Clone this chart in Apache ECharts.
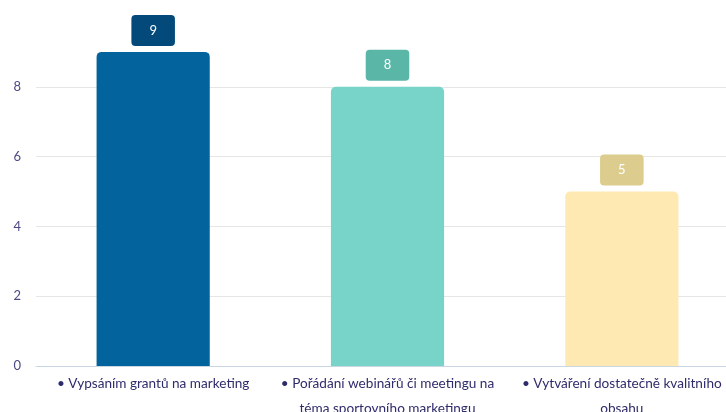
<!DOCTYPE html>
<html>
<head>
<meta charset="utf-8">
<style>
  html, body { margin: 0; padding: 0; background: #ffffff; }
  #chart { width: 726px; height: 412px; }
</style>
<script src="https://cdn.jsdelivr.net/npm/echarts@6/dist/echarts.min.js"></script>
</head>
<body>
<div id="chart"></div>
<script>
const categories = [
  '• Vypsáním grantů na marketing',
  '• Pořádání webinářů či meetingu na\ntéma sportovního marketingu',
  '• Vytváření dostatečně kvalitního\nobsahu'
];
const values = [9, 8, 5];
const yTicks = [0, 2, 4, 6, 8];

const barColors = ['#03639d', '#78d3c9', '#fde9b1'];
const badgeColors = ['#034a7b', '#5ab7a8', '#dccd8e'];

const chart = echarts.init(document.getElementById('chart'), null, { renderer: 'canvas' });

chart.setOption({
  animation: false,
  grid: { left: 36, right: -13, top: 17, bottom: 46, containLabel: false, outerBoundsMode: 'none' },
  xAxis: {
    type: 'category',
    data: categories,
    axisLine: { lineStyle: { color: '#c9d6e3', width: 1 } },
    axisTick: { show: false },
    axisLabel: {
      interval: 0,
      color: '#2f2c6b',
      fontSize: 13.6,
      fontFamily: 'Lato, sans-serif',
      lineHeight: 25,
      margin: 5
    }
  },
  yAxis: {
    type: 'value',
    min: 0,
    max: 10,
    interval: 2,
    axisLine: { show: false },
    axisTick: { show: false },
    axisLabel: {
      color: '#4b4883',
      fontSize: 13,
      fontFamily: 'Lato, sans-serif',
      margin: 15,
      formatter: v => (yTicks.indexOf(v) >= 0 ? String(v) : '')
    },
    splitLine: { showMaxLine: false, lineStyle: { color: '#e6e6e6', width: 1 } }
  },
  series: [{
    type: 'bar',
    barWidth: '48.3%',
    data: values.map((v, i) => ({
      value: v,
      itemStyle: { color: barColors[i], borderRadius: [5, 5, 0, 0] },
      label: { backgroundColor: badgeColors[i] }
    })),
    label: {
      show: true,
      position: 'top',
      distance: 6,
      color: '#ffffff',
      fontSize: 13,
      fontFamily: 'Lato, sans-serif',
      padding: [9, 18, 9, 18],
      borderRadius: 4
    }
  }]
});
</script>
</body>
</html>
